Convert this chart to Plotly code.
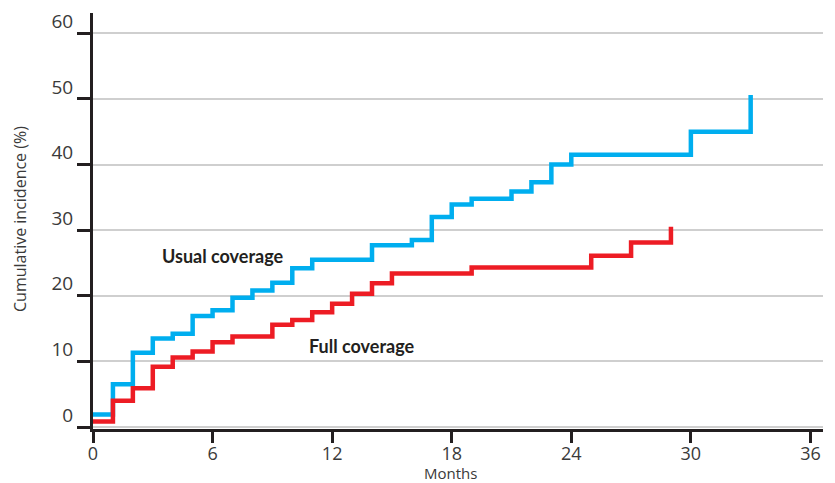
import plotly.graph_objects as go

# Data
months_usual = [0, 1, 2, 3, 4, 5, 6, 7, 8, 9, 10, 11, 14, 16, 17, 18, 19, 21, 22, 23, 24, 30, 33]
usual_coverage = [1.9, 6.5, 11.3, 13.5, 14.2, 16.9, 17.8, 19.7, 20.8, 22.0, 24.2, 25.5, 27.7, 28.5,
                  32.0, 33.9, 34.8, 35.9, 37.3, 40.0, 41.5, 45.0, 50.6]

months_full = [0, 1, 2, 3, 4, 5, 6, 7, 9, 10, 11, 12, 13, 14, 15, 19, 25, 27, 29]
full_coverage = [0.84, 4.0, 5.9, 9.2, 10.6, 11.5, 12.9, 13.8, 15.6, 16.3, 17.5, 18.8, 20.3, 21.9,
                 23.4, 24.3, 26.1, 28.1, 30.5]

x_ticks = [0, 6, 12, 18, 24, 30, 36]
y_ticks = [0, 10, 20, 30, 40, 50, 60]

BLUE = "#00AEEF"
RED = "#ED1C24"
INK = "#231F20"
TXT = "#3a3a3a"

L, R, T, B = 93, 12, 13, 54
W, H = 835, 483
PW, PH = W - L - R, H - T - B

fig = go.Figure()
fig.add_trace(go.Scatter(x=months_usual, y=usual_coverage, mode="lines", line_shape="hv",
                         line=dict(color=BLUE, width=4.5), name="Usual coverage",
                         hoverinfo="skip"))
fig.add_trace(go.Scatter(x=months_full, y=full_coverage, mode="lines", line_shape="hv",
                         line=dict(color=RED, width=4.5), name="Full coverage",
                         hoverinfo="skip"))

fig.add_annotation(x=3.35, y=26.0, xref="x", yref="y", text="<b>Usual coverage</b>",
                   showarrow=False, xanchor="left", yanchor="middle",
                   font=dict(family="Lato", size=18, color=INK))
fig.add_annotation(x=10.75, y=12.3, xref="x", yref="y", text="<b>Full coverage</b>",
                   showarrow=False, xanchor="left", yanchor="middle",
                   font=dict(family="Lato", size=18, color=INK))

# axis titles as annotations
fig.add_annotation(xref="paper", yref="paper", x=(450 - L) / PW, y=-(473 - (T + PH)) / PH,
                   text="Months", showarrow=False, xanchor="center", yanchor="middle",
                   borderpad=0,
                   font=dict(family="Open Sans", size=15, color=TXT))
fig.add_annotation(xref="paper", yref="paper", x=-(L - 20) / PW, y=((T + PH) - 219) / PH,
                   text="Cumulative incidence (%)", textangle=-90, showarrow=False,
                   xanchor="center", yanchor="middle",
                   font=dict(family="Open Sans", size=16, color=TXT))

fig.update_layout(
    width=W, height=H,
    margin=dict(l=L, r=R, t=T, b=B, autoexpand=False),
    paper_bgcolor="white", plot_bgcolor="white",
    showlegend=False,
    xaxis=dict(range=[0, 36.63], tickvals=x_ticks, ticktext=[str(v) for v in x_ticks],
               showgrid=False, zeroline=False, showline=True, linecolor=INK, linewidth=3,
               ticks="outside", ticklen=11, tickwidth=3, tickcolor=INK, automargin=False,
               ticklabelstandoff=-5,
               tickfont=dict(family="Open Sans", size=18, color=TXT)),
    yaxis=dict(range=[-0.3, 63.09], tickvals=y_ticks, ticktext=[str(v) for v in y_ticks],
               showgrid=True, gridcolor="#cfcfcf", gridwidth=1.5, zeroline=False,
               showline=True, linecolor=INK, linewidth=3, automargin=False,
               ticks="outside", ticklen=13, tickwidth=3, tickcolor=INK,
               ticklabelshift=-12,
               tickfont=dict(family="Open Sans", size=19, color=TXT)),
)

fig.write_html("out.html", config={"displayModeBar": False},
               post_script="document.body.style.margin='0';")
